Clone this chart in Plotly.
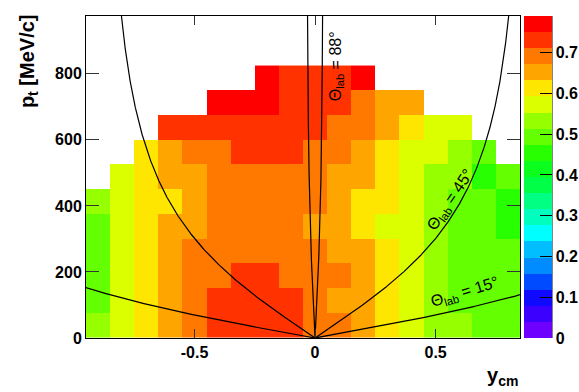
import numpy as np
import plotly.graph_objects as go

# ---- data -------------------------------------------------------------
y_cm = [-0.9, -0.8, -0.7, -0.6, -0.5, -0.4, -0.3, -0.2, -0.1, 0.0,
        0.1, 0.2, 0.3, 0.4, 0.5, 0.6, 0.7, 0.8]
p_t = [37.5, 112.5, 187.5, 262.5, 337.5, 412.5, 487.5, 562.5, 637.5, 712.5, 787.5]

N = None
# rows from p_t = 0-75 upward; columns follow y_cm
ratio = [
    [0.53, 0.57, 0.61, 0.65, 0.69, 0.73, 0.73, 0.73, 0.73, 0.69, 0.69, 0.65, 0.61, 0.57, 0.53, 0.53, 0.49, 0.49],
    [0.49, 0.57, 0.61, 0.65, 0.69, 0.73, 0.73, 0.73, 0.73, 0.69, 0.65, 0.65, 0.61, 0.57, 0.53, 0.49, 0.49, 0.49],
    [0.49, 0.57, 0.61, 0.65, 0.69, 0.69, 0.73, 0.73, 0.69, 0.69, 0.69, 0.65, 0.61, 0.57, 0.53, 0.49, 0.49, 0.49],
    [0.49, 0.57, 0.61, 0.65, 0.69, 0.69, 0.69, 0.69, 0.69, 0.69, 0.65, 0.65, 0.61, 0.57, 0.53, 0.49, 0.49, 0.49],
    [0.49, 0.57, 0.61, 0.65, 0.65, 0.69, 0.69, 0.69, 0.69, 0.65, 0.65, 0.61, 0.57, 0.57, 0.53, 0.49, 0.49, 0.45],
    [0.53, 0.57, 0.61, 0.61, 0.65, 0.69, 0.69, 0.69, 0.69, 0.69, 0.65, 0.61, 0.61, 0.57, 0.53, 0.49, 0.49, 0.45],
    [N,    0.57, 0.61, 0.65, 0.65, 0.69, 0.69, 0.69, 0.69, 0.69, 0.65, 0.65, 0.61, 0.57, 0.53, 0.53, 0.45, 0.49],
    [N,    N,    0.61, 0.65, 0.69, 0.69, 0.73, 0.73, 0.73, 0.69, 0.69, 0.65, 0.61, 0.57, 0.57, 0.53, 0.49, N],
    [N,    N,    N,    0.73, 0.73, 0.73, 0.73, 0.73, 0.73, 0.73, 0.69, 0.69, 0.65, 0.61, 0.57, 0.57, N,    N],
    [N,    N,    N,    N,    N,    0.77, 0.77, 0.77, 0.73, 0.73, 0.73, 0.69, 0.65, 0.65, N,    N,    N,    N],
    [N,    N,    N,    N,    N,    N,    N,    0.77, 0.73, 0.73, 0.73, 0.77, N,    N,    N,    N,    N,    N],
]

x_ticks = [-0.5, 0, 0.5]
x_tick_text = ["-0.5", "0", "0.5"]
y_ticks = [0, 200, 400, 600, 800]
z_ticks = [0, 0.1, 0.2, 0.3, 0.4, 0.5, 0.6, 0.7]

theta_lab_deg = [88, 45, 15]
kaon_mass = 493.7  # MeV/c^2

# ---- palette: 20 discrete bands ---------------------------------------
band_colors = [
    "rgb(110,0,255)", "rgb(60,0,255)", "rgb(15,10,255)", "rgb(0,75,255)",
    "rgb(0,140,255)", "rgb(0,190,255)", "rgb(0,255,255)", "rgb(0,255,190)",
    "rgb(0,255,130)", "rgb(0,255,70)", "rgb(10,255,30)", "rgb(40,255,0)",
    "rgb(100,255,0)", "rgb(150,255,0)", "rgb(220,255,0)", "rgb(255,230,0)",
    "rgb(255,165,0)", "rgb(255,120,0)", "rgb(255,50,0)", "rgb(255,0,0)",
]
nb = len(band_colors)
colorscale = []
for k, c in enumerate(band_colors):
    colorscale.append([k / nb, c])
    colorscale.append([(k + 1) / nb, c])

Z_MAX = 0.79
X_RANGE = [-0.95, 0.85]
Y_RANGE = [0, 975]

FONT = "Liberation Sans, Arial, Helvetica, sans-serif"

fig = go.Figure()
fig.add_trace(go.Heatmap(
    x=y_cm, y=p_t, z=ratio,
    zmin=0, zmax=Z_MAX,
    colorscale=colorscale,
    hoverinfo="skip",
    colorbar=dict(
        x=1.0092, xanchor="left", xpad=0,
        y=0.5, yanchor="middle", len=1.0, lenmode="fraction", ypad=0,
        thickness=28, outlinewidth=0,
        tickvals=z_ticks, ticktext=["0", "0.1", "0.2", "0.3", "0.4", "0.5", "0.6", "0.7"],
        ticks="inside", ticklen=12, tickwidth=1, tickcolor="black",
        tickfont=dict(family=FONT, size=16, color="black", weight="bold"),
    ),
))

# iso-angle lines (lab polar angle), kaon kinematics
pt_line = np.linspace(0, Y_RANGE[1], 600)
for th in theta_lab_deg:
    t = np.tan(np.radians(th))
    mt = np.sqrt(kaon_mass ** 2 + pt_line ** 2)
    yy = np.arcsinh(pt_line / (t * mt))
    xs = np.concatenate([-yy[::-1], yy])
    ys = np.concatenate([pt_line[::-1], pt_line])
    fig.add_trace(go.Scatter(x=xs, y=ys, mode="lines",
                             line=dict(color="black", width=1.2),
                             hoverinfo="skip", showlegend=False))

ann_font = dict(family=FONT, size=16, color="black")
fig.add_annotation(x=0.087, y=823, xref="x", yref="y", text="Θ<sub>lab</sub> = 88°",
                   textangle=-90, showarrow=False, font=ann_font)
fig.add_annotation(x=0.565, y=418, xref="x", yref="y", text="Θ<sub>lab</sub> = 45°",
                   textangle=-56, showarrow=False, font=ann_font)
fig.add_annotation(x=0.62, y=137, xref="x", yref="y", text="Θ<sub>lab</sub> = 15°",
                   textangle=-17, showarrow=False, font=ann_font)

title_font = dict(family=FONT, size=20, color="black", weight="bold")
fig.add_annotation(x=-0.1336, y=0.86, xref="paper", yref="paper",
                   text="p<sub>t</sub> [MeV/c]", textangle=-90, showarrow=False,
                   font=title_font, xanchor="center", yanchor="middle")
fig.add_annotation(x=1.0, y=-0.12, xref="paper", yref="paper",
                   text="y<sub>cm</sub>", showarrow=False,
                   font=title_font, xanchor="right", yanchor="middle")

# colorbar right edge line
fig.add_shape(type="line", xref="paper", yref="paper",
              x0=1.0737, x1=1.0737, y0=0, y1=1,
              line=dict(color="black", width=1))

tick_font = dict(family=FONT, size=16, color="black", weight="bold")
fig.update_xaxes(range=X_RANGE, tickvals=x_ticks, ticktext=x_tick_text,
                 ticks="inside", ticklen=9, tickwidth=1, tickcolor="#333",
                 showline=True, linecolor="black", linewidth=1, mirror="ticks",
                 showgrid=False, zeroline=False, tickfont=tick_font)
fig.update_yaxes(range=Y_RANGE, tickvals=y_ticks,
                 ticks="inside", ticklen=13, tickwidth=1, tickcolor="#333",
                 showline=True, linecolor="black", linewidth=1, mirror="ticks",
                 showgrid=False, zeroline=False, tickfont=tick_font)

fig.update_layout(
    width=579, height=392,
    margin=dict(l=86, r=59, t=16, b=54, autoexpand=False),
    paper_bgcolor="white", plot_bgcolor="white",
    showlegend=False,
)

fig.write_html("out.html")
